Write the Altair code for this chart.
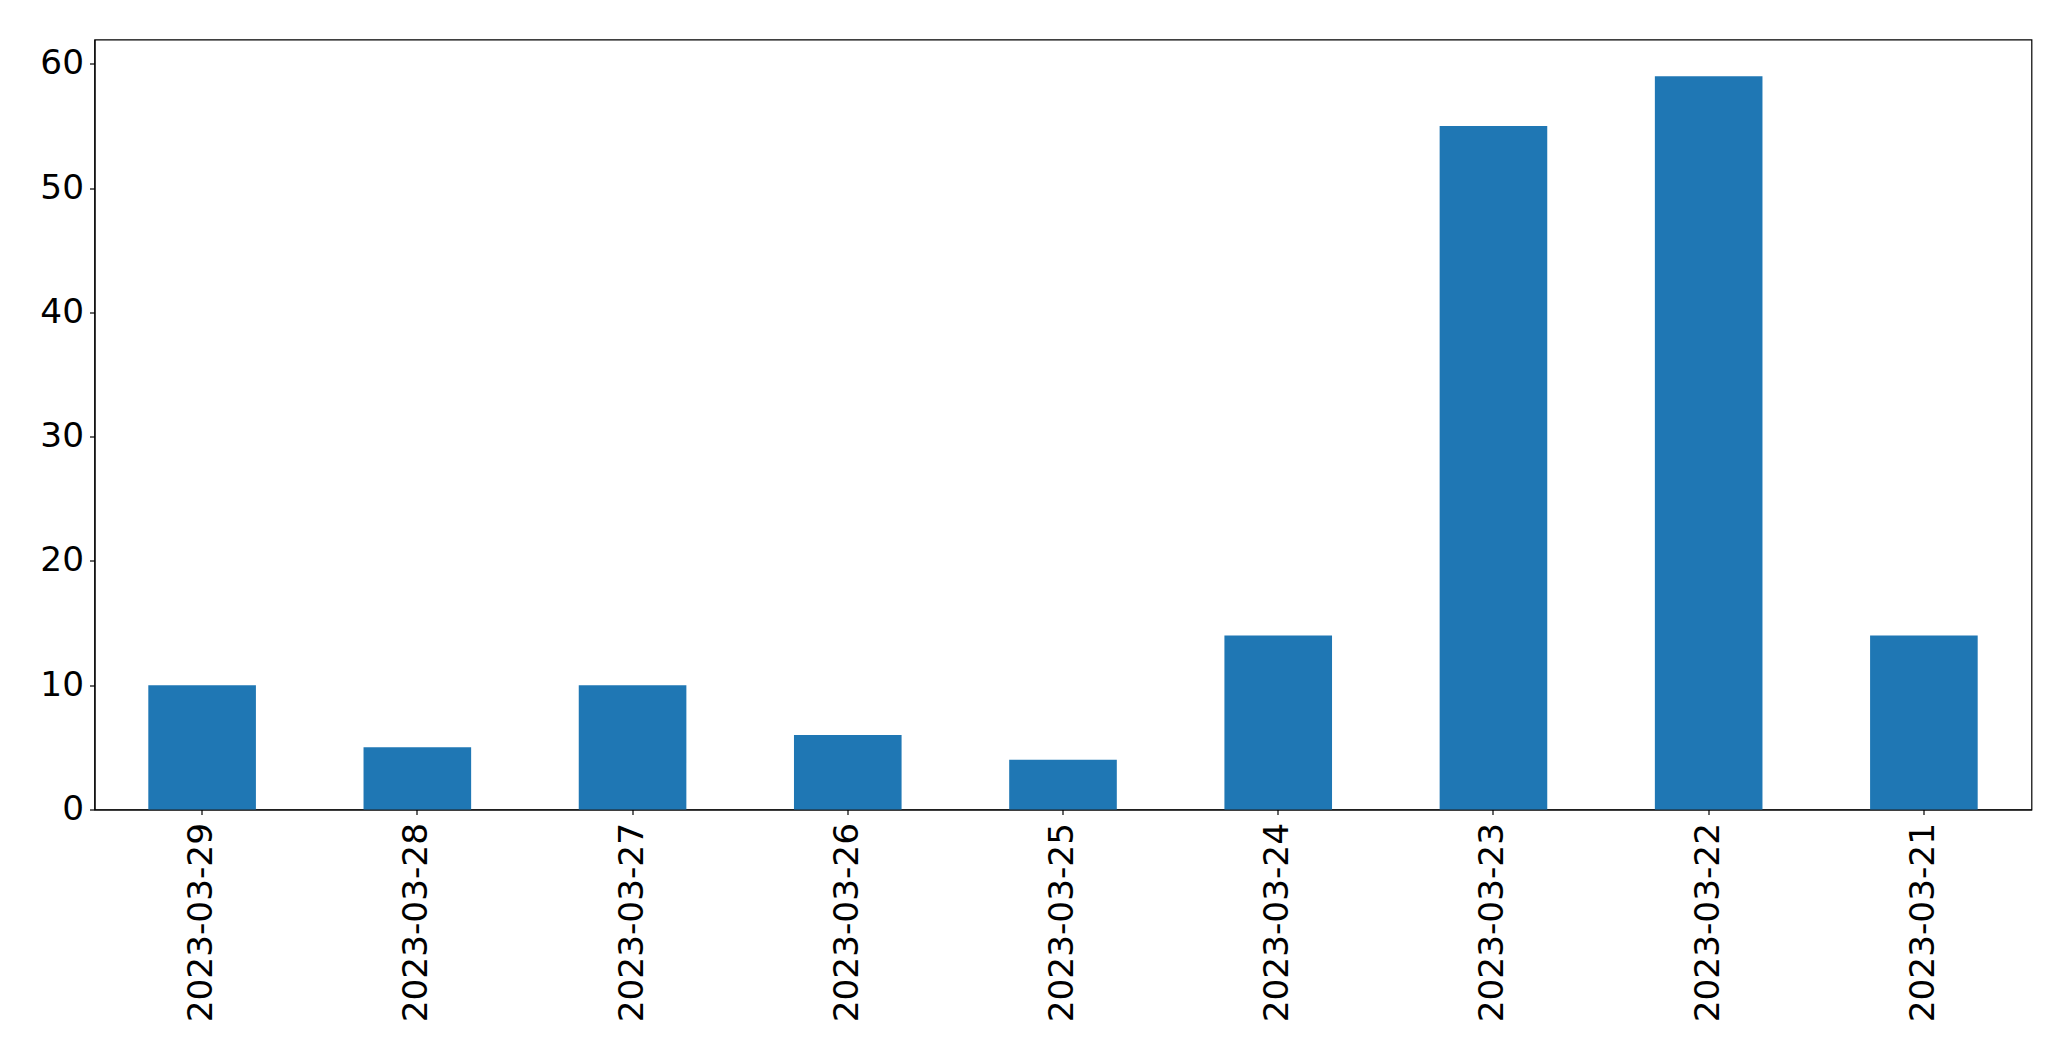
import altair as alt
import pandas as pd

dates = ["2023-03-29", "2023-03-28", "2023-03-27", "2023-03-26", "2023-03-25",
         "2023-03-24", "2023-03-23", "2023-03-22", "2023-03-21"]
counts = [10, 5, 10, 6, 4, 14, 55, 59, 14]
y_ticks = [0, 10, 20, 30, 40, 50, 60]

df = pd.DataFrame({"date": dates, "count": counts})

FONT = "DejaVu Sans"

chart = alt.Chart(df).mark_bar(color="#1f77b4").encode(
    x=alt.X("date:N", sort=None, title=None,
            scale=alt.Scale(paddingInner=0.5, paddingOuter=0.25),
            axis=alt.Axis(labelAngle=270, labelFont=FONT, labelFontSize=34.3,
                          labelColor="black", tickColor="black", tickSize=5,
                          labelLimit=1000, labelPadding=8, domainColor="black",
                          grid=False)),
    y=alt.Y("count:Q", title=None,
            scale=alt.Scale(domain=[0, 61.95], nice=False, zero=True),
            axis=alt.Axis(values=y_ticks, labelFont=FONT, labelFontSize=34.3,
                          labelColor="black", tickColor="black", tickSize=5,
                          labelPadding=6, domainColor="black", grid=False)),
).properties(
    width=1937,
    height=770,
    autosize=alt.AutoSizeParams(type="none"),
    padding={"left": 86.5, "top": 31.5, "right": 20, "bottom": 240},
).configure_view(
    stroke="black", strokeWidth=1.2
).configure_axis(
    domainWidth=1.2, tickWidth=1.2
)

chart.save("out.html", embed_options={"renderer": "svg", "actions": False})
